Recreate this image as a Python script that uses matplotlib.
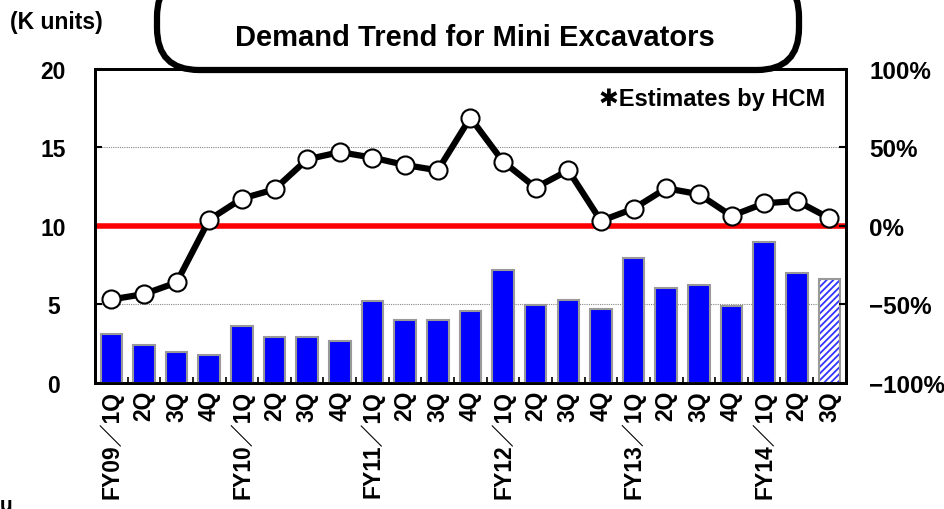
import matplotlib
matplotlib.use('Agg')
import matplotlib.pyplot as plt
from matplotlib.patches import FancyBboxPatch
import numpy as np

plt.rcParams['font.family'] = ['Liberation Sans', 'DejaVu Sans']
plt.rcParams['hatch.linewidth'] = 1.3

# Data
quarters = ['FY09／1Q', '2Q', '3Q', '4Q',
            'FY10／1Q', '2Q', '3Q', '4Q',
            'FY11／1Q', '2Q', '3Q', '4Q',
            'FY12／1Q', '2Q', '3Q', '4Q',
            'FY13／1Q', '2Q', '3Q', '4Q',
            'FY14／1Q', '2Q', '3Q']
demand = [3.1, 2.4, 2.0, 1.8, 3.6, 2.9, 2.9, 2.65,
          5.2, 4.0, 4.0, 4.6, 7.2, 4.95, 5.3, 4.7,
          7.95, 6.05, 6.25, 4.9, 9.0, 7.0, 6.65]
yoy_pct = [-46.8, -43.4, -36.0, 4.0, 17.4, 23.3, 42.4, 47.0,
           43.5, 38.8, 35.4, 68.9, 41.0, 24.4, 35.4, 3.2,
           11.0, 24.0, 20.2, 6.4, 14.4, 15.9, 4.9]
estimate_from = 22  # last bar is an estimate

left_ticks = [0, 5, 10, 15, 20]
right_ticks = [-100, -50, 0, 50, 100]
right_labels = ['−100%', '−50%', '0%', '50%', '100%']

fig = plt.figure(figsize=(9.45, 5.1), dpi=100)
ax = fig.add_axes([0.1005, 0.247, 0.7945, 0.616])
x = np.arange(len(quarters))

actual = x < estimate_from
ax.bar(x[actual], np.array(demand)[actual], width=0.66, color='#0000ff',
       edgecolor='#999999', linewidth=1.5, zorder=3)
# estimate bar: blue hatch on white, then grey outline on top
est = ~actual
ax.bar(x[est], np.array(demand)[est], width=0.66, color='white',
       edgecolor='#3333ff', linewidth=0, hatch='/////', zorder=3)
ax.bar(x[est], np.array(demand)[est], width=0.66, fill=False,
       edgecolor='#999999', linewidth=1.5, zorder=4)

ax.set_xlim(-0.5, len(x) - 0.5)
ax.set_ylim(0, 20)
ax.set_yticks(left_ticks)
ax.set_yticklabels([str(t) for t in left_ticks], fontsize=16.5, fontweight='bold')
for g in [5, 15]:
    ax.axhline(g, color='#888888', lw=0.8, ls=(0, (1, 1)), zorder=1)
ax.axhline(10, color='#ff0000', lw=4, zorder=2)

ax.set_xticks(x)
ax.set_xticklabels(quarters, rotation=90, fontsize=16.5, fontweight='bold',
                   family=['Liberation Sans', 'Noto Sans CJK JP'])
ax.tick_params(axis='x', length=0, pad=5)
ax.set_xticks(x[:-1] + 0.5, minor=True)
ax.tick_params(axis='x', which='minor', direction='in', length=4, width=1.2)
ax.tick_params(axis='y', direction='in', length=5, width=1.5, pad=30)
for lab in ax.get_yticklabels():
    lab.set_horizontalalignment('center')
for s in ax.spines.values():
    s.set_linewidth(2)

ax2 = ax.twinx()
ax2.set_ylim(-100, 100)
ax2.set_yticks(right_ticks)
ax2.set_yticklabels(right_labels, fontsize=17.5, fontweight='bold')
ax2.tick_params(axis='y', direction='in', length=5, width=1.5, pad=17)
ax2.plot(x, yoy_pct, color='black', lw=4.5, marker='o', markersize=13,
         markerfacecolor='white', markeredgecolor='black', markeredgewidth=1.5,
         zorder=5)
for s in ax2.spines.values():
    s.set_linewidth(2)

fig.text(0.011, 0.955, '(K units)', fontsize=16.5, fontweight='bold', va='center')
ax2.text(0.972, 0.905, '✱Estimates by HCM', transform=ax.transAxes, ha='right',
         va='center', fontsize=17, fontweight='bold',
         family=['Liberation Sans', 'DejaVu Sans'])

# rounded title box, sizes in inches so the ends stay round
box = FancyBboxPatch((1.57, 4.39), 6.42, 0.95,
                     boxstyle='round,pad=0,rounding_size=0.42',
                     transform=fig.dpi_scale_trans, facecolor='white',
                     edgecolor='black', linewidth=4.5, zorder=10)
fig.patches.append(box)
fig.text(0.502, 0.925, 'Demand Trend for Mini Excavators', ha='center', va='center',
         fontsize=21, fontweight='bold', zorder=11)

fig.text(0.0, 0.027, 'u', fontsize=15, fontweight='bold', va='top')

fig.savefig('out.png', dpi=100)
